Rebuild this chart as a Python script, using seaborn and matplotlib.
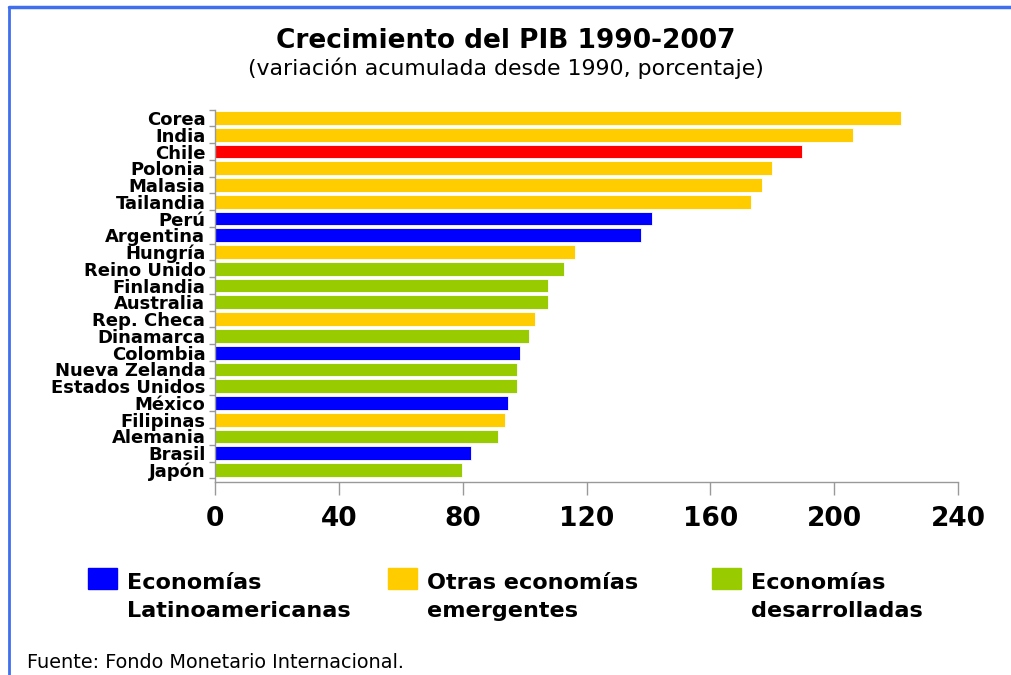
import pandas as pd
import numpy as np
import seaborn as sns
import matplotlib.pyplot as plt
import matplotlib.patches as mpatches
from matplotlib.lines import Line2D

# Data
paises = ['Corea', 'India', 'Chile', 'Polonia', 'Malasia', 'Tailandia', 'Perú',
          'Argentina', 'Hungría', 'Reino Unido', 'Finlandia', 'Australia',
          'Rep. Checa', 'Dinamarca', 'Colombia', 'Nueva Zelanda',
          'Estados Unidos', 'México', 'Filipinas', 'Alemania', 'Brasil', 'Japón']
valores = [221.5, 206.0, 189.5, 180.0, 176.8, 173.0, 141.0, 137.5, 116.2, 112.8,
           107.4, 107.4, 103.5, 101.4, 98.6, 97.5, 97.5, 94.7, 93.7, 91.5, 82.6, 79.7]
grupos = ['emerg', 'emerg', 'chile', 'emerg', 'emerg', 'emerg', 'latam',
          'latam', 'emerg', 'desar', 'desar', 'desar', 'emerg', 'desar',
          'latam', 'desar', 'desar', 'latam', 'emerg', 'desar', 'latam', 'desar']

colores = {'latam': '#0000FF', 'emerg': '#FFCC00', 'desar': '#99CC00', 'chile': '#FF0000'}
leyenda = [('latam', 'Economías\nLatinoamericanas'),
           ('emerg', 'Otras economías\nemergentes'),
           ('desar', 'Economías\ndesarrolladas')]
xticks = [0, 40, 80, 120, 160, 200, 240]

df = pd.DataFrame({'pais': paises, 'valor': valores, 'grupo': grupos})

sns.set_style('white')
plt.rcParams['font.family'] = ['DejaVu Sans']
plt.rcParams['text.color'] = 'black'
plt.rcParams['xtick.color'] = 'black'
plt.rcParams['ytick.color'] = 'black'

fig = plt.figure(figsize=(10.11, 6.75), dpi=100)
ax = fig.add_axes([0.2127, 0.2859, 0.7349, 0.5517])

sns.barplot(data=df, x='valor', y='pais', hue='grupo', palette=colores,
            order=paises, dodge=False, width=0.82, linewidth=0.6, saturation=1,
            edgecolor='white', legend=False, ax=ax)

ax.set_xlim(0, 240)
ax.set_ylim(21.72, -0.5)
ax.set_xticks(xticks)
ax.set_xticklabels([str(t) for t in xticks], fontsize=19, fontweight='bold')
ax.set_xlabel('')
ax.set_ylabel('')
ax.set_yticks(np.arange(len(paises)))
ax.set_yticklabels(paises, fontsize=13, fontweight='bold')
ax.set_yticks(np.arange(len(paises) + 1) - 0.5, minor=True)
ax.tick_params(axis='y', which='major', left=True, length=0, pad=7)
ax.tick_params(axis='y', which='minor', left=True, length=4, color='#999999', width=1)
ax.tick_params(axis='x', which='major', bottom=True, length=9, color='#999999',
               width=1, pad=8, labelcolor='black')
for s in ['top', 'right']:
    ax.spines[s].set_visible(False)
for s in ['left', 'bottom']:
    ax.spines[s].set_color('#999999')
    ax.spines[s].set_linewidth(1)

fig.text(0.5, 0.94, 'Crecimiento del PIB 1990-2007', ha='center', va='center',
         fontsize=19, fontweight='bold')
fig.text(0.5, 0.899, '(variación acumulada desde 1990, porcentaje)', ha='center',
         va='center', fontsize=15.8)

# legend
pos_x = [88, 388, 712]
for (g, txt), x in zip(leyenda, pos_x):
    fig.patches.append(mpatches.Rectangle((x / 1011, 1 - 589 / 675), 29 / 1011, 21 / 675,
                                          transform=fig.transFigure, color=colores[g]))
    fig.text((x + 39) / 1011, 1 - 573 / 675, txt, ha='left', va='top',
             fontsize=16.1, fontweight='bold', linespacing=1.5)

fig.text(27 / 1011, 1 - 662 / 675, 'Fuente: Fondo Monetario Internacional.',
         ha='left', va='center', fontsize=13.9)

# frame lines
fig.add_artist(Line2D([9 / 1011, 1], [1 - 7 / 675, 1 - 7 / 675], transform=fig.transFigure,
                      color='#3f6fee', linewidth=2.5))
fig.add_artist(Line2D([9 / 1011, 9 / 1011], [0, 1 - 7 / 675], transform=fig.transFigure,
                      color='#3f6fee', linewidth=2))

fig.savefig('out.png', dpi=100)
